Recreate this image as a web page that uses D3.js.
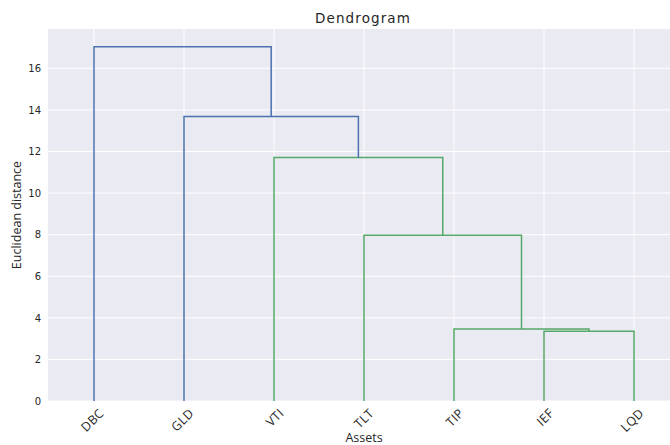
<!DOCTYPE html>
<html lang="en">
<head>
<meta charset="utf-8">
<title>Dendrogram</title>
<style>
  body { margin: 0; background: #fff; }
  .tick text { font-family: "DejaVu Sans", sans-serif; font-size: 10px; fill: #262626; }
  .xlab text { font-family: "Open Sans", sans-serif; font-size: 12.5px; letter-spacing: 0.3px; }
  .title { font-family: "DejaVu Sans", sans-serif; font-size: 13.5px; letter-spacing: 1.1px; fill: #262626; text-anchor: middle; }
  .axis-title { font-family: "Open Sans", "DejaVu Sans", sans-serif; font-size: 12.5px; fill: #262626; text-anchor: middle; }
</style>
</head>
<body>
<div id="chart"></div>
<script src="https://cdn.jsdelivr.net/npm/d3@7"></script>
<script>
// leaves in dendrogram order
var assets = ["DBC", "GLD", "VTI", "TLT", "TIP", "IEF", "LQD"];
// linkage: [left node, right node, distance]; nodes >= 7 are earlier merges
var mergeLeft = [5, 4, 3, 2, 1, 0];
var mergeRight = [6, 7, 8, 9, 10, 11];
var mergeDist = [3.36, 3.46, 7.97, 11.71, 13.68, 17.04];
var yTicks = [0, 2, 4, 6, 8, 10, 12, 14, 16];

var W = 670, H = 445;
var margin = {top: 29, left: 48, bottom: 44};
var plotRight = 679; // axes run past the figure edge

var svg = d3.select("#chart").append("svg")
  .attr("width", W).attr("height", H);

var x = d3.scaleLinear().domain([0, assets.length * 10]).range([margin.left + 1, plotRight]);
var y = d3.scaleLinear().domain([0, d3.max(mergeDist) * 1.05]).range([H - margin.bottom, margin.top]);

var colorThreshold = 0.7 * d3.max(mergeDist);
var blue = "#4c72b0", green = "#55a868";

svg.append("rect")
  .attr("x", margin.left).attr("y", margin.top)
  .attr("width", plotRight - margin.left)
  .attr("height", y(0) - margin.top)
  .attr("fill", "#eaeaf2");

// grid
svg.append("g").selectAll("line").data(yTicks).enter().append("line")
  .attr("x1", margin.left).attr("x2", plotRight)
  .attr("y1", function(d){ return y(d); }).attr("y2", function(d){ return y(d); })
  .attr("stroke", "#fff").attr("stroke-width", 1);
svg.append("g").selectAll("line").data(assets).enter().append("line")
  .attr("x1", function(d, i){ return x(5 + 10 * i); })
  .attr("x2", function(d, i){ return x(5 + 10 * i); })
  .attr("y1", margin.top).attr("y2", y(0))
  .attr("stroke", "#fff").attr("stroke-width", 1);

// node positions
var nodeX = assets.map(function(d, i){ return 5 + 10 * i; });
var nodeY = assets.map(function(){ return 0; });
var links = [];
mergeDist.forEach(function(h, k){
  var a = mergeLeft[k], b = mergeRight[k];
  links.push({x1: nodeX[a], y1: nodeY[a], x2: nodeX[b], y2: nodeY[b], h: h,
              color: h < colorThreshold ? green : blue});
  nodeX.push((nodeX[a] + nodeX[b]) / 2);
  nodeY.push(h);
});

svg.append("g").selectAll("path").data(links).enter().append("path")
  .attr("d", function(d){
    return "M" + x(d.x1) + "," + y(d.y1) +
           "V" + y(d.h) + "H" + x(d.x2) + "V" + y(d.y2);
  })
  .attr("fill", "none")
  .attr("stroke", function(d){ return d.color; })
  .attr("stroke-width", 1.5);

// axes
var yAxis = svg.append("g")
  .attr("transform", "translate(" + margin.left + ",0)")
  .call(d3.axisLeft(y).tickValues(yTicks).tickSize(0).tickPadding(7));
yAxis.select(".domain").remove();

var xAxis = svg.append("g")
  .attr("class", "xlab")
  .attr("transform", "translate(0," + y(0) + ")")
  .call(d3.axisBottom(x).tickValues(nodeX.slice(0, assets.length))
        .tickFormat(function(d, i){ return assets[i]; }).tickSize(0).tickPadding(6));
xAxis.select(".domain").remove();
xAxis.selectAll("text")
  .attr("text-anchor", "end")
  .attr("dy", "0.35em")
  .attr("transform", function(){ return "translate(7,10) rotate(-45)"; })
  .attr("y", 0).attr("x", 0);

svg.append("text").attr("class", "title")
  .attr("x", 363).attr("y", 23)
  .text("Dendrogram");

svg.append("text").attr("class", "axis-title")
  .attr("x", 364).attr("y", 442)
  .text("Assets");

svg.append("text").attr("class", "axis-title")
  .attr("transform", "rotate(-90)")
  .attr("x", -(margin.top + y(0)) / 2).attr("y", 21)
  .text("Euclidean distance");
</script>
</body>
</html>
